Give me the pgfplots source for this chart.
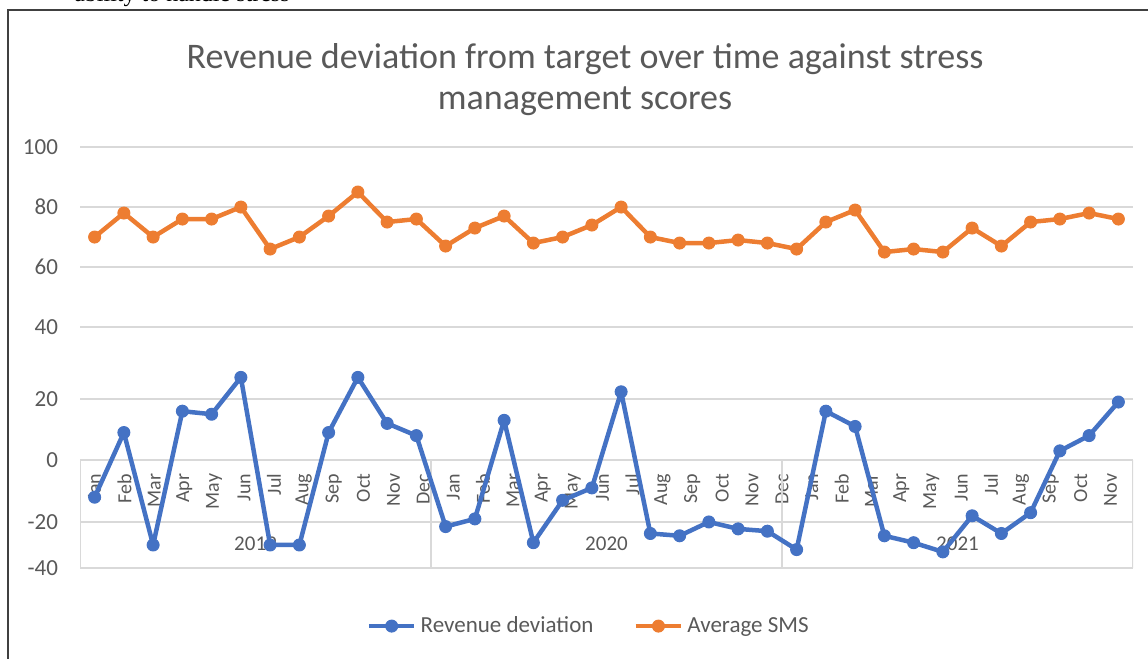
\documentclass[border=0pt]{standalone}
\usepackage{fontspec}
\setmainfont{Carlito}
\newfontfamily\docserif{Liberation Serif}
\usepackage{pgfplots}
\pgfplotsset{compat=1.18}
\usepackage{pgfplotstable}
\definecolor{rblue}{HTML}{4472C4}
\definecolor{rorange}{HTML}{ED7D31}
\definecolor{txt}{HTML}{595959}
\definecolor{gridc}{HTML}{D9D9D9}
\definecolor{framec}{HTML}{404040}

\pgfplotstableread{
x rev sms
0 -12 70
1 9 78
2 -30 70
3 16 76
4 15 76
5 26 80
6 -30 66
7 -30 70
8 9 77
9 26 85
10 12 75
11 8 76
12 -22 67
13 -19 73
14 13 77
15 -29 68
16 -13 70
17 -9 74
18 22 80
19 -25 70
20 -26 68
21 -20 68
22 -23 69
23 -24 68
24 -32 66
25 16 75
26 11 79
27 -26 65
28 -29 66
29 -33 65
30 -18 73
31 -25 67
32 -17 75
33 3 76
34 8 78
35 19 76
}\datatable

\begin{document}
\begin{tikzpicture}
\begin{scope}[x=0.5pt,y=0.5pt]
\node[anchor=base east, font=\docserif\fontsize{12}{14}\selectfont, inner sep=0pt] at (290,657) {ability to handle stress};
\draw[framec, line width=1pt] (8,-20) -- (8,649) -- (1170,649);
\node[align=center, text=txt, font=\fontsize{18}{20.5}\selectfont] at (585,579) {Revenue deviation from target over time against stress\\management scores};
\end{scope}
\begin{axis}[
  at={(40pt,45.5pt)}, anchor=south west,
  scale only axis, width=526.5pt, height=210.5pt,
  xmin=-0.5, xmax=35.5, ymin=-40, ymax=100,
  y coord trafo/.code={\pgfmathparse{((#1)>=40)*(40.1+((#1)-40)*0.998) + ((#1)<40)*((#1)>=20)*(16.2+((#1)-20)*1.195) + ((#1)<20)*((#1)>=0)*(-4.1+(#1)*1.015) + ((#1)<0)*((#1)>=-20)*(-24.7+((#1)+20)*1.03) + ((#1)<-20)*(-40+((#1)+40)*0.765)}},
  set layers,
  axis x line*=middle, axis y line*=left,
  x axis line style={draw=none}, y axis line style={draw=none},
  hide obscured x ticks=false, hide obscured y ticks=false,
  ytick={-40,-20,0,20,40,60,80,100},
  yticklabels={-40,-20,0,20,40,60,80,100},
  ymajorgrids, grid style={draw=gridc, line width=0.75pt},
  major tick length=0pt,
  xtick={0,1.0216,2.0432,3.0648,4.0864,5.108,6.1296,7.1512,8.1728,9.1944,10.216,11.2376,12.2592,13.2808,14.3024,15.324,16.3456,17.3672,18.3888,19.4104,20.432,21.4536,22.4752,23.4968,24.5184,25.54,26.5616,27.5832,28.6048,29.6264,30.648,31.6696,32.6912,33.7128,34.7344},
  xticklabels={Jan,Feb,Mar,Apr,May,Jun,Jul,Aug,Sep,Oct,Nov,Dec,Jan,Feb,Mar,Apr,May,Jun,Jul,Aug,Sep,Oct,Nov,Dec,Jan,Feb,Mar,Apr,May,Jun,Jul,Aug,Sep,Oct,Nov},
  xticklabel style={rotate=90, anchor=east, font=\fontsize{10}{12}\selectfont, text=txt},
  xticklabel shift=9.5pt,
  yticklabel style={font=\fontsize{11.5}{13}\selectfont, text=txt, xshift=-7.5pt},
  /pgf/number format/assume math mode=true,
  legend columns=2,
  legend style={draw=none, fill=none, at={(0.484,-0.138)}, anchor=center, font=\fontsize{11.5}{13}\selectfont, text=txt, /tikz/every even column/.append style={column sep=18pt}},
  legend image code/.code={\draw[mark repeat=2,mark phase=2,#1] plot coordinates {(0cm,0cm) (0.4cm,0cm) (0.8cm,0cm)};},
]
\draw[gridc, line width=0.75pt] (axis cs:-0.5,0) -- (axis cs:-0.5,-40);
\draw[gridc, line width=0.75pt] (axis cs:11.5,0) -- (axis cs:11.5,-40);
\draw[gridc, line width=0.75pt] (axis cs:23.5,0) -- (axis cs:23.5,-40);
\draw[gridc, line width=0.75pt] (axis cs:35.5,0) -- (axis cs:35.5,-40);
\node[text=txt, font=\fontsize{10.5}{12}\selectfont] at (axis cs:5.5,-29.4) {2019};
\node[text=txt, font=\fontsize{10.5}{12}\selectfont] at (axis cs:17.5,-29.4) {2020};
\node[text=txt, font=\fontsize{10.5}{12}\selectfont] at (axis cs:29.5,-29.4) {2021};
\addplot[rblue, line width=2.25pt, line join=round, mark=*, mark size=3pt, mark options={solid, fill=rblue, draw=rblue, line width=0.5pt}] table[x=x, y=rev] {\datatable};
\addlegendentry{Revenue deviation}
\addplot[rorange, line width=2.25pt, line join=round, mark=*, mark size=3pt, mark options={solid, fill=rorange, draw=rorange, line width=0.5pt}] table[x=x, y=sms] {\datatable};
\addlegendentry{Average SMS}
\end{axis}
\pgfresetboundingbox
\path[use as bounding box] (0,0) rectangle (574pt,329.5pt);
\end{tikzpicture}
\end{document}
